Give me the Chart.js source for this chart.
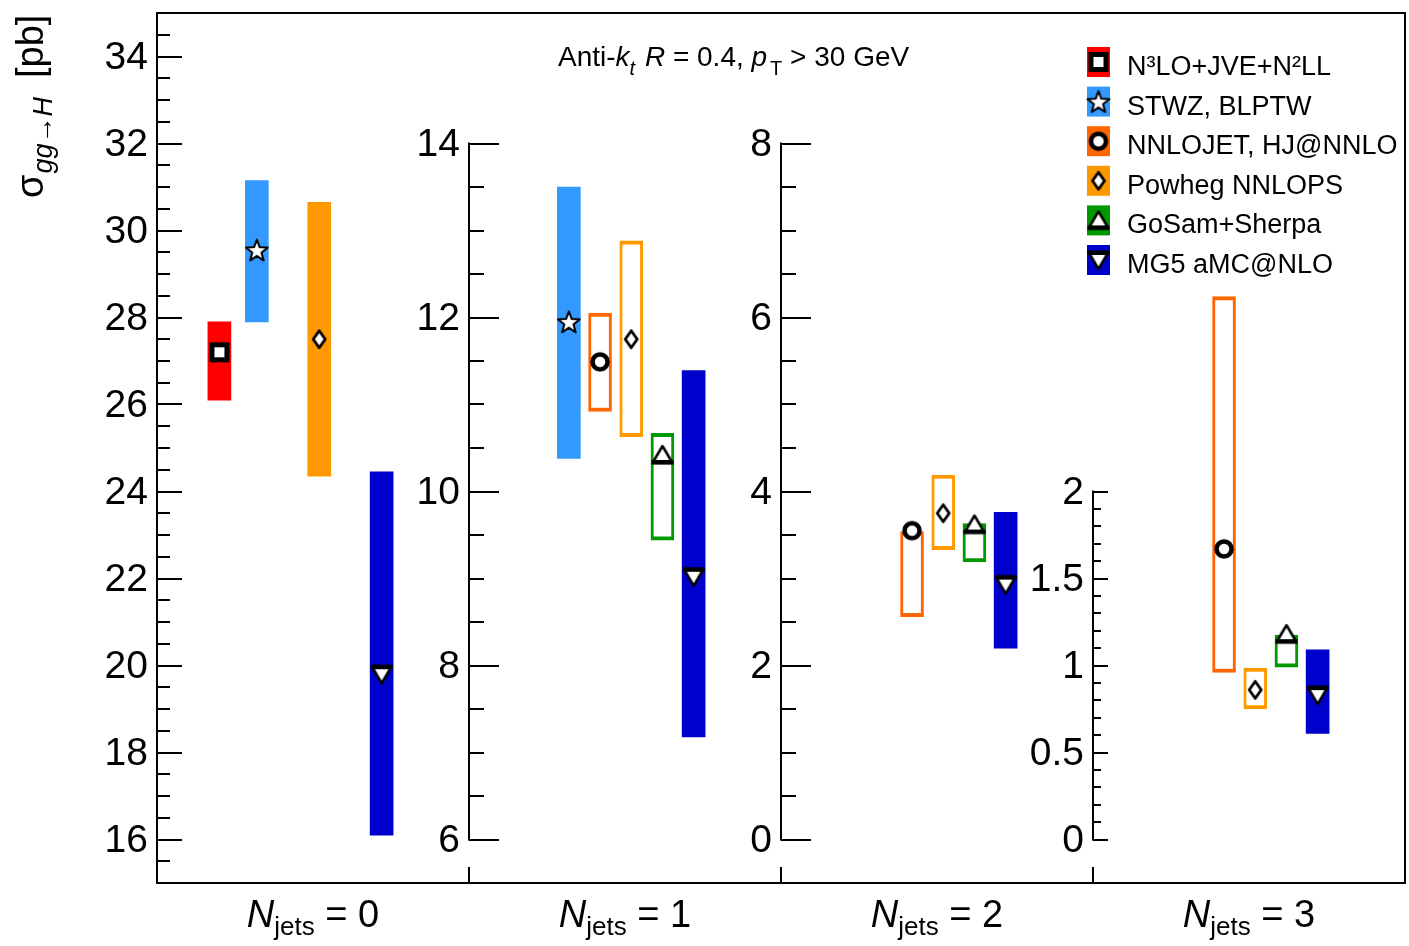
<!DOCTYPE html>
<html lang="en">
<head>
  <meta charset="UTF-8" />
  <title>gg→H cross sections in jet bins</title>
  <script src="https://cdn.jsdelivr.net/npm/chart.js@4.4.1/dist/chart.umd.min.js"></script>
  <style>
    html, body { margin: 0; padding: 0; background: #fff; }
    #wrap { width: 1409px; height: 946px; }
  </style>
</head>
<body>
  <div id="wrap"><canvas id="chart" width="1409" height="946"></canvas></div>

  <script>
    // --- data -------------------------------------------------------------
    // one panel per jet bin, every panel has its own y axis
    const jetBins = ['0', '1', '2', '3'];
    const panelMin = [15, 5.5, -0.5, -0.25];
    const panelMax = [35, 15.5, 9.5, 4.75];
    const majorTicks = [
      [16, 18, 20, 22, 24, 26, 28, 30, 32, 34],
      [6, 8, 10, 12, 14],
      [0, 2, 4, 6, 8],
      [0, 0.5, 1, 1.5, 2]
    ];
    const minorFrom = [15.5, 6, 0, 0];
    const minorTo = [34.5, 14, 8, 2];
    const minorStep = [0.5, 0.5, 0.5, 0.1];

    // uncertainty band [low, high] and central value per jet bin, in pb
    const n3loBand = [[26.1, 27.9], null, null, null];
    const n3loCentral = [27.2, null, null, null];
    const stwzBand = [[27.9, 31.15], [10.38, 13.5], null, null];
    const stwzCentral = [29.55, 11.95, null, null];
    const nnlojetBand = [null, [10.92, 12.05], [2.56, 3.54], [0.96, 3.12]];
    const nnlojetCentral = [null, 11.49, 3.55, 1.67];
    const powhegBand = [[24.35, 30.65], [10.63, 12.88], [3.33, 4.19], [0.75, 0.985]];
    const powhegCentral = [27.5, 11.75, 3.75, 0.86];
    const gosamBand = [null, [9.44, 10.67], [3.19, 3.63], [0.99, 1.175]];
    const gosamCentral = [null, 10.42, 3.62, 1.18];
    const mg5Band = [[16.1, 24.45], [7.18, 11.39], [2.2, 3.76], [0.61, 1.09]];
    const mg5Central = [19.8, 9.02, 2.93, 0.83];

    // --- look -------------------------------------------------------------
    const FONT = "'Liberation Sans', Arial, Helvetica, sans-serif";
    const slotOffset = [0.2, 0.32, 0.42, 0.52, 0.62, 0.72]; // place of each series inside a panel
    const majorLen = [25, 30, 30, 15];
    const minorLen = [13, 15, 15, 8];
    const LABEL_GAP = 9 / 312; // gap between tick labels and axis line, in panel units

    Chart.defaults.font.family = FONT;
    Chart.defaults.color = '#000';

    function markerCanvas(draw) {
      const c = document.createElement('canvas');
      c.width = 28; c.height = 28;
      const g = c.getContext('2d');
      g.lineJoin = 'round';
      draw(g, 14, 14);
      return c;
    }

    const markers = {
      square: markerCanvas((g, cx, cy) => {
        g.fillStyle = '#000'; g.fillRect(cx - 10, cy - 10, 20, 20);
        g.fillStyle = '#fff'; g.fillRect(cx - 5, cy - 5, 10, 10);
      }),
      star: markerCanvas((g, cx, cy) => {
        g.beginPath();
        for (let i = 0; i < 10; i++) {
          const r = i % 2 ? 4.8 : 11.5;
          const a = -Math.PI / 2 + i * Math.PI / 5;
          g.lineTo(cx + r * Math.cos(a), cy + 1 + r * Math.sin(a));
        }
        g.closePath();
        g.fillStyle = '#fff'; g.fill();
        g.lineWidth = 2; g.strokeStyle = '#000'; g.stroke();
      }),
      circle: markerCanvas((g, cx, cy) => {
        g.beginPath(); g.arc(cx, cy, 7.5, 0, Math.PI * 2);
        g.fillStyle = '#fff'; g.fill();
        g.lineWidth = 4.5; g.strokeStyle = '#000'; g.stroke();
      }),
      diamond: markerCanvas((g, cx, cy) => {
        g.beginPath();
        g.moveTo(cx, cy - 8.5); g.lineTo(cx + 6, cy); g.lineTo(cx, cy + 8.5); g.lineTo(cx - 6, cy);
        g.closePath();
        g.fillStyle = '#fff'; g.fill();
        g.lineWidth = 2.8; g.strokeStyle = '#000'; g.stroke();
      }),
      triUp: markerCanvas((g, cx, cy) => {
        g.beginPath();
        g.moveTo(cx, cy - 9); g.lineTo(cx + 10, cy + 8); g.lineTo(cx - 10, cy + 8);
        g.closePath();
        g.fillStyle = '#fff'; g.fill();
        g.lineWidth = 2.5; g.strokeStyle = '#000'; g.stroke();
        g.fillStyle = '#000'; g.fillRect(cx - 11, cy + 5, 22, 4.5);
      }),
      triDown: markerCanvas((g, cx, cy) => {
        g.beginPath();
        g.moveTo(cx, cy + 9); g.lineTo(cx + 10, cy - 8); g.lineTo(cx - 10, cy - 8);
        g.closePath();
        g.fillStyle = '#fff'; g.fill();
        g.lineWidth = 2.5; g.strokeStyle = '#000'; g.stroke();
        g.fillStyle = '#000'; g.fillRect(cx - 11, cy - 9.5, 22, 4.5);
      })
    };

    const series = [
      { name: 'N³LO+JVE+N²LL', color: '#ff0000', band: n3loBand, central: n3loCentral, filled: [true, true, true, true], marker: 'square' },
      { name: 'STWZ, BLPTW', color: '#3399ff', band: stwzBand, central: stwzCentral, filled: [true, true, true, true], marker: 'star' },
      { name: 'NNLOJET, HJ@NNLO', color: '#ff6600', band: nnlojetBand, central: nnlojetCentral, filled: [false, false, false, false], marker: 'circle' },
      { name: 'Powheg NNLOPS', color: '#ff9900', band: powhegBand, central: powhegCentral, filled: [true, false, false, false], marker: 'diamond' },
      { name: 'GoSam+Sherpa', color: '#009900', band: gosamBand, central: gosamCentral, filled: [false, false, false, false], marker: 'triUp' },
      { name: 'MG5 aMC@NLO', color: '#0000cc', band: mg5Band, central: mg5Central, filled: [true, true, true, true], marker: 'triDown' }
    ];

    // --- datasets: one bar + one marker per series and jet bin ---------------
    const datasets = [];
    series.forEach((s, si) => {
      jetBins.forEach((bin, p) => {
        if (!s.band[p]) return;
        const x = p + slotOffset[si];
        datasets.push({
          type: 'bar', label: s.name, yAxisID: 'y' + p,
          data: [{ x: x, y: s.band[p] }],
          backgroundColor: s.filled[p] ? s.color : '#ffffff',
          borderColor: s.color,
          borderWidth: s.filled[p] ? 0 : { top: 4, bottom: 4, left: 3, right: 3 },
          borderSkipped: false,
          grouped: false,
          barThickness: 23,
          maxBarThickness: 23,
          order: 2
        });
        datasets.push({
          type: 'scatter', label: s.name, yAxisID: 'y' + p,
          data: [{ x: x, y: s.central[p] }],
          pointStyle: markers[s.marker],
          pointRadius: 10,
          showLine: false,
          order: 1
        });
      });
    });

    // --- scales -------------------------------------------------------------
    function minorTicks(p) {
      const out = [];
      for (let v = minorFrom[p]; v <= minorTo[p] + 1e-9; v += minorStep[p]) {
        out.push(Math.round(v * 1000) / 1000);
      }
      return out;
    }

    const scales = {
      x: {
        type: 'linear', min: 0, max: 4, offset: false, position: 'bottom',
        afterBuildTicks: s => { s.ticks = [1, 2, 3].map(v => ({ value: v })); },
        afterFit: s => { s.height = 63; s.paddingLeft = 0; s.paddingRight = 0; },
        grid: { offset: false, drawOnChartArea: false, drawTicks: true, tickLength: -16, color: '#000', lineWidth: 2 },
        border: { display: true, color: '#000', width: 2 },
        ticks: { display: false }
      }
    };

    jetBins.forEach((bin, p) => {
      const base = {
        type: 'linear', min: panelMin[p], max: panelMax[p],
        position: { x: p },
        border: { display: false }
      };
      const noPad = s => { s.paddingTop = 0; s.paddingBottom = 0; };
      // major tick marks (the data are mapped on this one)
      scales['y' + p] = Object.assign({}, base, {
        afterBuildTicks: s => { s.ticks = majorTicks[p].map(v => ({ value: v })); },
        afterFit: noPad,
        grid: { drawOnChartArea: false, drawTicks: true, tickLength: -majorLen[p], color: '#000', lineWidth: 2 },
        ticks: { display: false }
      });
      // minor tick marks
      scales['y' + p + 'm'] = Object.assign({}, base, {
        afterBuildTicks: s => { s.ticks = minorTicks(p).map(v => ({ value: v })); },
        afterFit: noPad,
        grid: { drawOnChartArea: false, drawTicks: true, tickLength: -minorLen[p], color: '#000', lineWidth: 2 },
        ticks: { display: false }
      });
      // tick labels, right aligned a little left of the axis line
      scales['y' + p + 'L'] = Object.assign({}, base, {
        position: { x: p - LABEL_GAP },
        afterBuildTicks: s => { s.ticks = majorTicks[p].map(v => ({ value: v })); },
        afterFit: noPad,
        grid: { display: false, drawTicks: false },
        ticks: {
          display: true, padding: 0, autoSkip: false, labelOffset: 2, color: '#000',
          font: { family: FONT, size: 39 }, callback: v => String(v)
        }
      });
    });

    // --- texts, frame and legend -----------------------------------------------
    function drawRuns(ctx, x, y, runs) {
      runs.forEach(r => {
        ctx.font = r[1];
        ctx.fillText(r[0], x, y + (r[2] || 0));
        x += ctx.measureText(r[0]).width + (r[3] || 0);
      });
    }
    function runsWidth(ctx, runs) {
      let w = 0;
      runs.forEach(r => { ctx.font = r[1]; w += ctx.measureText(r[0]).width + (r[3] || 0); });
      return w;
    }

    const decor = {
      id: 'decor',
      afterDraw(chart) {
        const ctx = chart.ctx;
        const a = chart.chartArea;
        const xs = chart.scales.x;
        ctx.save();
        ctx.strokeStyle = '#000';
        ctx.fillStyle = '#000';

        // frame
        ctx.lineWidth = 2;
        ctx.strokeRect(a.left, a.top, a.right - a.left, a.bottom - a.top);

        // axis lines of the inner panels only span their tick range
        for (let p = 1; p < jetBins.length; p++) {
          const ys = chart.scales['y' + p];
          const px = Math.round(xs.getPixelForValue(p));
          ctx.beginPath();
          ctx.moveTo(px, ys.getPixelForValue(majorTicks[p][0]) + 1);
          ctx.lineTo(px, ys.getPixelForValue(majorTicks[p][majorTicks[p].length - 1]) - 1);
          ctx.stroke();
        }

        ctx.textAlign = 'left';
        ctx.textBaseline = 'alphabetic';

        // jet bin labels under each panel
        jetBins.forEach((bin, p) => {
          const runs = [['N', 'italic 38px ' + FONT], ['jets', '26px ' + FONT, 8], [' = ' + bin, '38px ' + FONT]];
          const cx = xs.getPixelForValue(p + 0.5);
          drawRuns(ctx, cx - runsWidth(ctx, runs) / 2, 927, runs);
        });

        // jet definition
        drawRuns(ctx, 558, 66, [
          ['Anti-', '28px ' + FONT], ['k', 'italic 28px ' + FONT], ['t', 'italic 20px ' + FONT, 9, 2],
          [' ', '28px ' + FONT], ['R', 'italic 28px ' + FONT], [' = 0.4, ', '28px ' + FONT],
          ['p', 'italic 28px ' + FONT, 0, 3], ['T', '20px ' + FONT, 9], [' > 30 GeV', '28px ' + FONT]
        ]);

        // y title, rotated
        ctx.save();
        ctx.translate(43, 198);
        ctx.rotate(-Math.PI / 2);
        ctx.font = '38px ' + FONT;
        ctx.fillText('σ', 0, 0);
        const sw = ctx.measureText('σ').width;
        ctx.font = 'italic 27px ' + FONT;
        ctx.fillText('gg→H', sw + 1, 9);
        ctx.font = '38px ' + FONT;
        ctx.fillText('[pb]', 120, 0);
        ctx.restore();

        // legend
        series.forEach((s, i) => {
          const cy = 62 + i * 39.6;
          ctx.fillStyle = s.color;
          ctx.fillRect(1087, cy - 15, 23, 30);
          ctx.drawImage(markers[s.marker], 1098.5 - 14, cy - 14);
          ctx.fillStyle = '#000';
          ctx.font = '27px ' + FONT;
          ctx.fillText(s.name, 1127, cy + 13);
        });

        ctx.restore();
      }
    };

    new Chart(document.getElementById('chart'), {
      type: 'bar',
      data: { datasets },
      options: {
        responsive: false,
        animation: false,
        devicePixelRatio: 1,
        events: [],
        layout: { autoPadding: false, padding: { left: 157, right: 4, top: 13, bottom: 0 } },
        plugins: { legend: { display: false }, tooltip: { enabled: false } },
        scales
      },
      plugins: [decor]
    });
  </script>
</body>
</html>
